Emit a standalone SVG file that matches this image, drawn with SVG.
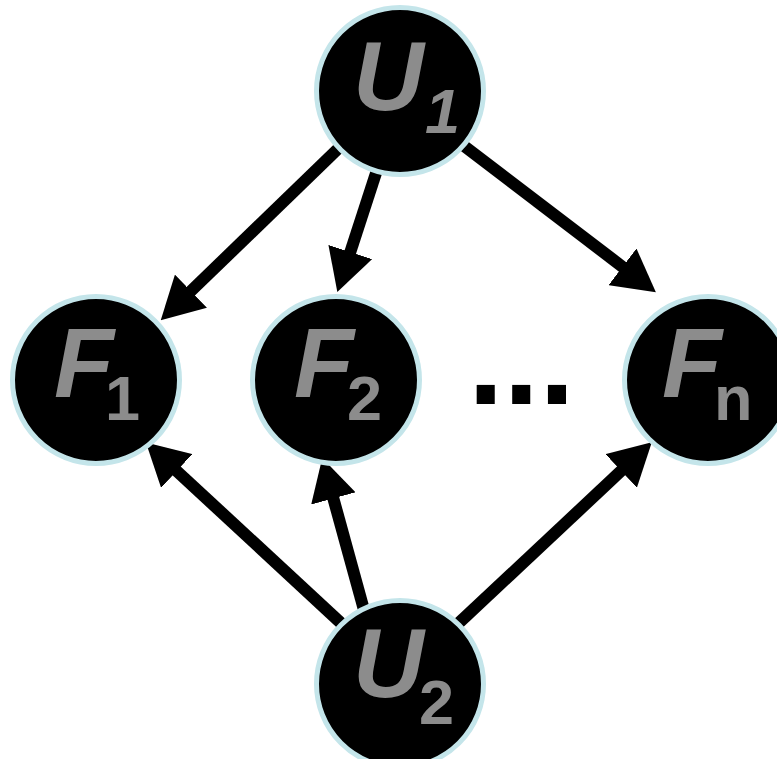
<svg xmlns="http://www.w3.org/2000/svg" width="777" height="759" viewBox="0 0 777 759">
  <style>
    .node circle { fill: #000; stroke: #c4e5ea; stroke-width: 5; }
    .var { font-family: "Liberation Sans", Arial, sans-serif; font-weight: bold; fill: #8c8c8c; }
    .main { font-size: 98px; font-style: italic; }
    .sub { font-size: 63px; font-style: normal; }
    .edge { stroke: #000; stroke-width: 12; fill: none; marker-end: url(#head); }
    .dots { font-family: "Liberation Sans", Arial, sans-serif; font-weight: bold; font-size: 128px; fill: #000; }
  </style>
  <defs>
    <marker id="head" markerUnits="userSpaceOnUse" viewBox="0 0 42 46" markerWidth="42" markerHeight="46" refX="1" refY="23" orient="auto">
      <path d="M0,0 L42,23 L0,46 Z" fill="#000"/>
    </marker>
  </defs>
  <rect width="777" height="759" fill="#fff"/>

  <g id="connectors">
    <line class="edge" x1="345" y1="142" x2="190.2" y2="291.8"/>
    <line class="edge" x1="390" y1="130" x2="350" y2="253"/>
    <line class="edge" x1="430" y1="120" x2="623.3" y2="267.4"/>
    <line class="edge" x1="370" y1="650" x2="176" y2="470.3"/>
    <line class="edge" x1="375" y1="650" x2="333.1" y2="497.5"/>
    <line class="edge" x1="430" y1="650" x2="621.9" y2="470.2"/>
  </g>

  <g id="U1" class="node">
    <circle cx="400" cy="91" r="83.5"/>
    <text class="var main" x="353" y="110">U<tspan class="sub" x="425" y="133" style="font-style:italic">1</tspan></text>
  </g>
  <g id="F1" class="node">
    <circle cx="96" cy="380" r="83.5"/>
    <text class="var main" x="54" y="397">F<tspan class="sub" x="105" y="420">1</tspan></text>
  </g>
  <g id="F2" class="node">
    <circle cx="336" cy="380" r="83.5"/>
    <text class="var main" x="294" y="397">F<tspan class="sub" x="347" y="420">2</tspan></text>
  </g>
  <g id="Fn" class="node">
    <circle cx="708" cy="380" r="83.5"/>
    <text class="var main" x="662" y="397">F<tspan class="sub" x="714" y="420">n</tspan></text>
  </g>
  <g id="U2" class="node">
    <circle cx="400" cy="684" r="83.5"/>
    <text class="var main" x="353" y="697">U<tspan class="sub" x="419" y="724">2</tspan></text>
  </g>

  <text id="ellipsis" class="dots" x="468" y="404">...</text>
</svg>
